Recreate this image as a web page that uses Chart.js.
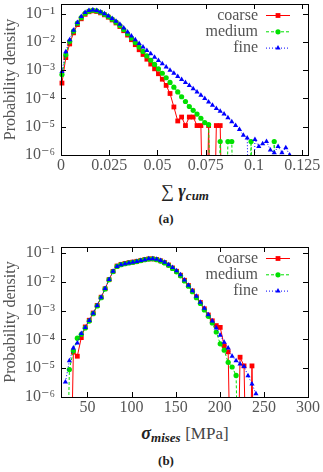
<!DOCTYPE html>
<html>
<head>
<meta charset="utf-8">
<script src="https://cdn.jsdelivr.net/npm/chart.js@4.4.0/dist/chart.umd.min.js"></script>
<style>
  body { margin: 0; width: 323px; height: 472px; background: #fff; position: relative; overflow: hidden;
         font-family: "Liberation Serif", "DejaVu Serif", serif; }
  canvas { position: absolute; left: 0; }
  .xt { position: absolute; left: 85px; width: 200px; text-align: center; font-size: 18px; color: #222;
        line-height: 20px; white-space: nowrap; }
  .xt sub { font-size: 13px; vertical-align: -3px; line-height: 0; }
  .xt span { color: #444; font-size: 17px; }
  .cap { position: absolute; left: 116px; width: 100px; text-align: center; font-weight: bold;
         font-size: 13px; color: #222; }
</style>
</head>
<body>
<canvas id="chartA" width="323" height="179" style="top:0"></canvas>
<div class="xt" style="top:181px">∑ <b><i>γ<sub>cum</sub></i></b></div>
<div class="cap" style="top:211px">(a)</div>
<canvas id="chartB" width="323" height="178" style="top:243px"></canvas>
<div class="xt" style="top:423px"><b><i>σ<sub>mises</sub></i></b> <span>[MPa]</span></div>
<div class="cap" style="top:453px">(b)</div>
<script>
// series names
const seriesNames = ["coarse", "medium", "fine"];

// (a) accumulated slip histogram
const gammaBins = [0.0005, 0.0025, 0.0045, 0.0065, 0.0085, 0.0105, 0.0125, 0.0145, 0.0165, 0.0185,
  0.0205, 0.0225, 0.0245, 0.0265, 0.0285, 0.0305, 0.0325, 0.0345, 0.0365, 0.0385,
  0.0405, 0.0425, 0.0445, 0.0465, 0.0485, 0.0505, 0.0525, 0.0545, 0.0565, 0.0585,
  0.0605, 0.0625, 0.0645, 0.0665, 0.0685, 0.0705, 0.0725, 0.0745, 0.0765, 0.0785,
  0.0805, 0.0825, 0.0845, 0.0865, 0.0885, 0.0905, 0.0925, 0.0945, 0.0965, 0.0985,
  0.1005, 0.1025, 0.1045, 0.1065, 0.1085, 0.1105, 0.1125, 0.1145, 0.1165, 0.1185];
const coarseA = [3.5e-4, 2.8e-3, 8.5e-3, 2.1e-2, 4.1e-2, 6.6e-2, 9.5e-2, 0.117, 0.126, 0.12,
  0.107, 0.091, 0.075, 0.06, 0.047, 0.035, 0.025, 0.0175, 0.012, 8.0e-3,
  5.3e-3, 3.6e-3, 2.45e-3, 1.65e-3, 1.12e-3, 7.5e-4, 4.8e-4, 2.9e-4, 1.5e-4, 5e-5,
  1.6e-5, 2.2e-5, 1.1e-5, 2.2e-5, 2.2e-5, 1.1e-5, 1.1e-5, 0, 1.1e-5, 0,
  1.1e-5, 1.1e-5, 0, null, null, null, null, null, null, null,
  null, null, null, null, null, null, null, null, null, null];
const mediumA = [7e-4, 3.5e-3, 1.05e-2, 2.4e-2, 4.6e-2, 7.2e-2, 0.102, 0.123, 0.132, 0.126,
  0.112, 0.095, 0.079, 0.064, 0.05, 0.038, 0.0275, 0.0195, 0.0137, 9.5e-3,
  6.6e-3, 4.6e-3, 3.2e-3, 2.25e-3, 1.6e-3, 1.12e-3, 7.8e-4, 5.4e-4, 3.7e-4, 2.5e-4,
  1.7e-4, 1.15e-4, 7.8e-5, 5.2e-5, 3.8e-5, 2.8e-5, 2e-5, 1.4e-5, 1.2e-5, 0,
  0, 3e-6, 0, 3e-6, 3e-6, 0, 0, 0, 0, 3e-6,
  0, 0, 0, 0, 0, 3e-6, 0, null, null, null];
const fineA = [9e-4, 4.5e-3, 1.2e-2, 2.6e-2, 4.9e-2, 8e-2, 0.11, 0.129, 0.135, 0.129,
  0.115, 0.1, 0.083, 0.068, 0.054, 0.042, 0.031, 0.0225, 0.0163, 0.0119,
  8.8e-3, 6.6e-3, 5.0e-3, 3.8e-3, 2.9e-3, 2.2e-3, 1.7e-3, 1.3e-3, 1.0e-3, 7.8e-4,
  6.0e-4, 4.7e-4, 3.7e-4, 2.9e-4, 2.2e-4, 1.7e-4, 1.3e-4, 1.0e-4, 7.5e-5, 5.8e-5,
  4.4e-5, 3.5e-5, 2.8e-5, 2.1e-5, 1.5e-5, 1.1e-5, 8e-6, 5e-6, 4e-6, 0,
  3.5e-6, 2e-6, 2.5e-6, 3e-6, 1.5e-6, 1.2e-6, 2e-6, 1.2e-6, 1.8e-6, 1e-6];
const gammaTicks = [0, 0.025, 0.05, 0.075, 0.1, 0.125];
const gammaTickLabels = ["0", "0.025", "0.05", "0.075", "0.1", "0.125"];

// (b) von Mises stress histogram
const stressBins = [25, 29.5, 34, 38.5, 43, 47.5, 52, 56.5, 61, 65.5,
  70, 74.5, 79, 83.5, 88, 92.5, 97, 101.5, 106, 110.5,
  115, 119.5, 124, 128.5, 133, 137.5, 142, 146.5, 151, 155.5,
  160, 164.5, 169, 173.5, 178, 182.5, 187, 191.5, 196, 200.5,
  205, 209.5, 214, 218.5, 223, 227.5, 232, 236.5, 241];
const coarseB = [null, 0, 3.6e-5, 2.6e-5, 1.15e-4, 2.7e-4, 4.6e-4, 8.2e-4, 1.5e-3, 2.9e-3,
  5.7e-3, 0.0118, 0.0228, 0.035, 0.04, 0.043, 0.046, 0.048, 0.051, 0.055,
  0.059, 0.062, 0.062, 0.059, 0.053, 0.046, 0.038, 0.03, 0.023, 0.0168,
  0.0112, 7.4e-3, 4.8e-3, 3.0e-3, 1.9e-3, 1.15e-3, 7e-4, 4.4e-4, 3.0e-4, 2.6e-4,
  6e-5, 3.7e-5, 0, 0, 2.4e-5, 1.2e-5, 0, 1.2e-5, 0];
const mediumB = [0, 9e-6, 4e-5, 1.1e-4, 1.5e-4, 2.5e-4, 4.3e-4, 7.8e-4, 1.45e-3, 2.8e-3,
  5.6e-3, 0.0118, 0.0225, 0.034, 0.039, 0.042, 0.045, 0.047, 0.05, 0.054,
  0.058, 0.061, 0.062, 0.058, 0.052, 0.045, 0.037, 0.029, 0.022, 0.016,
  0.0106, 7e-3, 4.5e-3, 2.8e-3, 1.75e-3, 1.05e-3, 6.3e-4, 3.7e-4, 1.8e-4, 7e-5,
  4.2e-5, 1.6e-5, 1.1e-5, 5.6e-6, 0, null, null, null, null];
const fineB = [3.3e-6, 1.8e-5, 5e-5, 7.5e-5, 1.6e-4, 2.6e-4, 4.5e-4, 8e-4, 1.5e-3, 2.9e-3,
  5.8e-3, 0.012, 0.023, 0.034, 0.039, 0.042, 0.045, 0.047, 0.05, 0.054,
  0.058, 0.062, 0.063, 0.06, 0.054, 0.047, 0.039, 0.031, 0.024, 0.0175,
  0.0115, 7.6e-3, 4.9e-3, 3.1e-3, 1.95e-3, 1.2e-3, 7.2e-4, 4.3e-4, 2.5e-4, 1.4e-4,
  8e-5, 5e-5, 2.6e-5, 1.8e-5, 1.4e-5, 1.15e-5, 5.5e-6, 2.8e-6, 1.3e-6];
const stressTicks = [50, 100, 150, 200, 250, 300];
const stressTickLabels = ["50", "100", "150", "200", "250", "300"];

// shared log axis
const densityTicks = [1e-6, 1e-5, 1e-4, 1e-3, 1e-2, 1e-1];
const densityTickLabels = ["10⁻⁶", "10⁻⁵", "10⁻⁴", "10⁻³", "10⁻²", "10⁻¹"];

const serif = '"Liberation Serif", "DejaVu Serif", serif';
const textGray = '#555';
// empty bins: gnuplot drops the line below the log axis, do the same
const belowAxis = 1e-12;

const lineStyles = [
  { color: '#ff0000', pointStyle: 'rect', radius: 3.4, dash: [] },
  { color: '#00e000', pointStyle: 'circle', radius: 2.6, dash: [3, 2] },
  { color: '#0000ff', pointStyle: 'triangle', radius: 3, dash: [1, 2] }
];

function drawMarker(ctx, style, x, y) {
  ctx.beginPath();
  if (style === 'rect') {
    ctx.rect(x - 2.4, y - 2.4, 4.8, 4.8);
  } else if (style === 'circle') {
    ctx.arc(x, y, 2.6, 0, Math.PI * 2);
  } else {
    ctx.moveTo(x, y - 3);
    ctx.lineTo(x + 2.6, y + 1.5);
    ctx.lineTo(x - 2.6, y + 1.5);
    ctx.closePath();
  }
  ctx.fill();
}

// box with inward ticks on all four sides
const framePlugin = {
  id: 'frame',
  afterDatasetsDraw(chart) {
    const { ctx, chartArea: a } = chart;
    const xs = chart.scales.x, ys = chart.scales.y;
    ctx.save();
    ctx.strokeStyle = '#000';
    ctx.lineWidth = 1;
    ctx.setLineDash([]);
    ctx.strokeRect(Math.round(a.left) + 0.5, Math.round(a.top) + 0.5,
      Math.round(a.right - a.left), Math.round(a.bottom - a.top));
    ctx.beginPath();
    xs.ticks.forEach(t => {
      const px = Math.round(xs.getPixelForValue(t.value)) + 0.5;
      ctx.moveTo(px, a.bottom); ctx.lineTo(px, a.bottom - 5);
      ctx.moveTo(px, a.top); ctx.lineTo(px, a.top + 5);
    });
    ys.ticks.forEach(t => {
      const py = Math.round(ys.getPixelForValue(t.value)) + 0.5;
      ctx.moveTo(a.left, py); ctx.lineTo(a.left + 5, py);
      ctx.moveTo(a.right, py); ctx.lineTo(a.right - 5, py);
    });
    ctx.stroke();
    ctx.restore();
  }
};

// gnuplot style key: text, then line sample with a marker
const keyPlugin = {
  id: 'key',
  afterDraw(chart) {
    const { ctx, chartArea: a } = chart;
    ctx.save();
    chart.data.datasets.forEach((ds, i) => {
      const y = a.top + 11.5 + 16.3 * i;
      ctx.font = '16px ' + serif;
      ctx.fillStyle = textGray;
      ctx.textAlign = 'right';
      ctx.textBaseline = 'middle';
      ctx.fillText(ds.label, a.right - 50, y);
      ctx.strokeStyle = ds.borderColor;
      ctx.lineWidth = 1;
      ctx.setLineDash(ds.borderDash);
      ctx.beginPath();
      ctx.moveTo(a.right - 42, y);
      ctx.lineTo(a.right - 18, y);
      ctx.stroke();
      ctx.setLineDash([]);
      ctx.fillStyle = ds.borderColor;
      drawMarker(ctx, ds.pointStyle, a.right - 30, y);
    });
    ctx.restore();
  }
};

function makeChart(canvasId, bins, seriesList, xMin, xMax, yMax, xTickValues, xTickLabels) {
  const datasets = seriesList.map((vals, i) => {
    const st = lineStyles[i];
    return {
      label: seriesNames[i],
      data: bins.map((x, j) => ({ x: x, y: vals[j] === 0 ? belowAxis : vals[j] })),
      borderColor: st.color,
      backgroundColor: st.color,
      borderWidth: 1,
      borderDash: st.dash,
      pointStyle: st.pointStyle,
      pointRadius: c => (c.raw && c.raw.y >= densityTicks[0]) ? st.radius : 0,
      pointBorderWidth: 0,
      pointHoverRadius: 0,
      tension: 0,
      fill: false,
      order: 2 - i,
      clip: { left: 6, top: 0, right: 0, bottom: 0 }
    };
  });

  return new Chart(document.getElementById(canvasId), {
    type: 'line',
    data: { datasets: datasets },
    options: {
      responsive: false,
      animation: false,
      events: [],
      layout: { padding: { left: 0, right: 15, top: 4, bottom: 0 } },
      plugins: { legend: { display: false }, tooltip: { enabled: false } },
      scales: {
        x: {
          type: 'linear',
          min: xMin,
          max: xMax,
          grid: { display: false, drawTicks: false },
          border: { display: false },
          afterBuildTicks: s => { s.ticks = xTickValues.map(v => ({ value: v })); },
          afterFit: s => { s.height = 24; s.paddingLeft = 0; s.paddingRight = 0; },
          ticks: {
            callback: (v, i) => xTickLabels[i],
            color: textGray,
            font: { family: serif, size: 16 },
            padding: 1,
            maxRotation: 0,
            autoSkip: false
          }
        },
        y: {
          type: 'logarithmic',
          min: 1e-6,
          max: yMax,
          grid: { display: false, drawTicks: false },
          border: { display: false },
          afterBuildTicks: s => { s.ticks = densityTicks.map(v => ({ value: v })); },
          afterFit: s => { s.width = 61; s.paddingTop = 0; s.paddingBottom = 0; },
          ticks: {
            callback: (v, i) => densityTickLabels[i],
            color: textGray,
            font: { family: serif, size: 16 },
            padding: 6,
            autoSkip: false
          },
          title: {
            display: true,
            text: 'Probability density',
            color: textGray,
            font: { family: serif, size: 16 },
            padding: { top: 1, bottom: 0 }
          }
        }
      }
    },
    plugins: [framePlugin, keyPlugin]
  });
}

makeChart('chartA', gammaBins, [coarseA, mediumA, fineA], 0, 0.128, 0.22, gammaTicks, gammaTickLabels);
makeChart('chartB', stressBins, [coarseB, mediumB, fineB], 20, 300, 0.16, stressTicks, stressTickLabels);
</script>
</body>
</html>
